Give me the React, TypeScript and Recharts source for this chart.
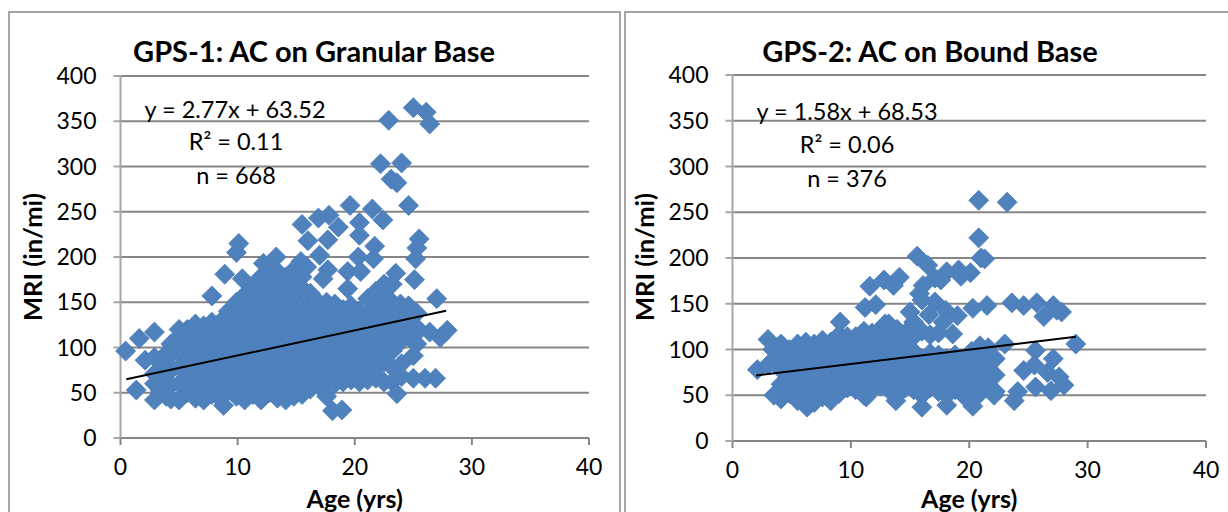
import { ScatterChart, Scatter, XAxis, YAxis, CartesianGrid } from 'recharts'

type Pt = { age: number; mri: number }

const xTicks = [0, 10, 20, 30, 40]
const yTicks = [0, 50, 100, 150, 200, 250, 300, 350, 400]

// points that stand clear of the blob, [age, mri]
const gps1Outliers = [
  [0.44, 96], [1.6, 110], [2.9, 117], [2.1, 86], [2.9, 89], [1.35, 53],
  [25, 365], [26.1, 360], [26.4, 347], [22.9, 351], [22.2, 303], [24, 304],
  [23.1, 286], [23.6, 282], [24.6, 257], [21.5, 253], [19.6, 257], [22.4, 241],
  [20.4, 238], [20.4, 224], [16.9, 243], [17.8, 246], [18.6, 233], [15.5, 236],
  [16, 218], [17.7, 219], [21.7, 212], [25.5, 220], [25.3, 210], [25.2, 198],
  [20.3, 200], [21.6, 198], [17, 202], [25.1, 175], [27, 154], [10.1, 215],
  [9.9, 205], [8.9, 181], [7.8, 157], [13.3, 200], [12.2, 193], [10.4, 176],
  [15.4, 195], [15.9, 189], [17.7, 186], [19.4, 184], [20.5, 184], [19.4, 165],
  [15.4, 167], [16.6, 154], [23.5, 182], [22.8, 167], [17.3, 176], [27.9, 119],
  [27.3, 111], [26.4, 117], [25.5, 119], [25, 91], [24, 82], [26.9, 66],
  [26, 66], [25, 66], [24, 68], [23.6, 49], [18.1, 30], [18.9, 31],
  [17.6, 46], [8.8, 36],
]

// the dense part, one age with its mri readings per row
const gps1Columns: [number, number[]][] = [
  [2.9, [42, 60, 71]],
  [3.4, [52, 70, 84]],
  [3.9, [46, 63, 80, 93]],
  [4.3, [43, 58, 75, 92, 104]],
  [5.0, [42, 60, 78, 96, 112, 120]],
  [5.7, [50, 68, 86, 104, 120]],
  [6.4, [44, 60, 77, 95, 112, 126]],
  [7.1, [42, 56, 72, 90, 108, 124]],
  [7.8, [48, 66, 84, 102, 118, 128]],
  [8.5, [44, 60, 76, 94, 112, 128]],
  [9.2, [52, 70, 88, 106, 124, 140]],
  [9.9, [46, 62, 80, 98, 116, 134, 150]],
  [10.6, [42, 56, 72, 90, 108, 126, 144, 158]],
  [11.3, [48, 66, 84, 102, 120, 138, 156, 168]],
  [12.0, [42, 58, 76, 94, 112, 130, 148, 166, 178]],
  [12.7, [50, 68, 86, 104, 122, 140, 158, 176, 186]],
  [13.4, [44, 60, 78, 96, 114, 132, 150, 168, 184]],
  [14.1, [42, 54, 72, 90, 108, 126, 144, 162, 178]],
  [14.8, [46, 64, 82, 100, 118, 136, 154, 172, 186]],
  [15.5, [48, 58, 76, 94, 112, 130, 146, 178]],
  [16.2, [54, 70, 88, 106, 124, 142, 160]],
  [16.9, [58, 78, 96, 114, 132, 148]],
  [17.6, [62, 70, 88, 106, 124, 142, 150]],
  [18.3, [60, 78, 96, 114, 132, 148]],
  [19.0, [62, 70, 88, 106, 124, 142]],
  [19.7, [64, 80, 98, 116, 134, 146]],
  [20.4, [62, 72, 90, 108, 126, 140]],
  [21.1, [64, 82, 100, 118, 136, 154]],
  [21.8, [66, 76, 94, 112, 130, 148, 162]],
  [22.5, [62, 84, 102, 120, 138, 156, 170]],
  [23.2, [62, 78, 96, 114, 132, 150, 170]],
  [23.9, [106, 122, 138, 148]],
  [24.6, [112, 128, 146]],
  [25.3, [104, 122, 138]],
]
const gps1Trend = [[0.5, 65], [27.8, 140.5]]

const gps2Outliers = [
  [20.8, 263], [23.2, 261], [20.8, 222], [21, 200], [21.3, 199], [15.6, 202],
  [16.5, 192], [11.6, 169], [12.8, 176], [14.1, 179], [13.6, 170], [9.1, 130],
  [11.2, 146], [12.1, 149], [17.1, 178], [18.1, 185], [19.1, 187], [20.1, 184],
  [19.3, 180], [17.6, 176], [16.1, 170], [15.8, 161], [16, 154], [17.1, 152],
  [18, 143], [19, 137], [20.3, 145], [21.5, 148], [23.6, 151], [24.6, 148],
  [25.7, 151], [27.1, 148], [27.8, 141], [26.3, 136], [27.4, 143], [29, 106],
  [27.1, 90], [25.6, 99], [24.6, 77], [25.5, 83], [26.6, 75], [27.6, 70],
  [28, 61], [25.6, 59], [26.9, 55], [24.1, 54], [23.8, 44], [23, 106],
  [2.1, 78], [3, 111], [3, 83], [3.5, 50], [6.3, 37], [16, 37],
  [18.1, 39], [20.3, 38], [13.8, 44], [11.3, 48], [22.1, 50], [18.6, 117],
  [15, 141], [12.9, 128], [16.6, 138], [17.8, 130],
]

const gps2Columns: [number, number[]][] = [
  [3.4, [88, 100]],
  [4.1, [46, 62, 78, 92, 106]],
  [4.8, [52, 68, 84, 100]],
  [5.5, [44, 60, 76, 92, 106]],
  [6.2, [48, 66, 84, 100, 108]],
  [6.9, [42, 58, 74, 90, 106]],
  [7.6, [48, 64, 80, 96, 110]],
  [8.3, [44, 60, 76, 92, 108]],
  [9.0, [52, 68, 84, 100, 116]],
  [9.7, [58, 74, 90, 106, 114]],
  [10.4, [56, 66, 82, 98, 114]],
  [11.1, [50, 62, 78, 94, 110, 120]],
  [11.8, [56, 70, 86, 102, 118]],
  [12.5, [60, 76, 92, 108, 122]],
  [13.2, [56, 68, 84, 100, 116, 128]],
  [13.9, [50, 62, 78, 94, 110, 122]],
  [14.6, [58, 72, 88, 104, 118]],
  [15.3, [56, 66, 82, 98, 114, 130]],
  [16.0, [50, 62, 76, 90, 120]],
  [16.7, [58, 70, 84, 96, 116]],
  [17.4, [54, 66, 80, 94, 118]],
  [18.1, [50, 62, 76, 90]],
  [18.8, [56, 70, 84, 94]],
  [19.5, [50, 62, 76, 90]],
  [20.2, [54, 68, 84, 98]],
  [20.9, [52, 62, 76, 92, 104]],
  [21.6, [58, 70, 86, 102]],
  [22.2, [54, 72, 90]],
]
const gps2Trend = [[2, 71.7], [29, 114]]

const toPts = (outliers: number[][], columns: [number, number[]][]): Pt[] => [
  ...columns.flatMap(([age, vals]) => vals.map(mri => ({ age, mri }))),
  ...outliers.map(([age, mri]) => ({ age, mri })),
]

const Diamond = (props: any) => {
  const { cx, cy } = props
  return (
    <path
      d={`M${cx} ${cy - 10}L${cx + 10} ${cy}L${cx} ${cy + 10}L${cx - 10} ${cy}Z`}
      fill="#4f81bd"
      stroke="#4a7ebb"
      strokeWidth={0.8}
    />
  )
}

const font = 'Lato, sans-serif'

type PanelProps = {
  left: number
  width: number
  marginLeft: number
  marginRight: number
  marginTop: number
  marginBottom: number
  title: string
  titleX: number
  notes: [string, string, string]
  noteX: number[]
  noteY: number[]
  points: Pt[]
  trend: number[][]
}

function Panel(p: PanelProps) {
  const trendPts = p.trend.map(([age, mri]) => ({ age, mri }))
  return (
    <div style={{ position: 'absolute', left: p.left, top: 0 }}>
      <ScatterChart
        width={p.width}
        height={512}
        margin={{ top: p.marginTop, right: p.marginRight, bottom: p.marginBottom, left: p.marginLeft }}
      >
        <CartesianGrid horizontal vertical={false} stroke="#868686" strokeWidth={2} />
        <XAxis
          type="number" dataKey="age" domain={[0, 40]} ticks={xTicks} height={40}
          stroke="#868686" strokeWidth={2} tickSize={7} tickMargin={14}
          tick={{ fill: '#000', fontSize: 23, fontFamily: font }}
        />
        <YAxis
          type="number" dataKey="mri" domain={[0, 400]} ticks={yTicks} width={60}
          stroke="#a6a6a6" strokeWidth={2} tickSize={7} tickMargin={17}
          tick={{ fill: '#000', fontSize: 23, fontFamily: font }}
        />
        <Scatter data={p.points} shape={Diamond} isAnimationActive={false} />
        <Scatter
          data={trendPts}
          shape={() => null}
          line={{ stroke: '#000', strokeWidth: 2 }}
          isAnimationActive={false}
        />
        <g fontFamily={font} fill="#000">
          <text x={p.titleX} y={62} fontSize={29} fontWeight={700} textAnchor="middle">{p.title}</text>
          <text x={p.noteX[0]} y={p.noteY[0]} fontSize={23.5} textAnchor="middle">{p.notes[0]}</text>
          <text x={p.noteX[1]} y={p.noteY[1]} fontSize={23.5} textAnchor="middle">{p.notes[1]}</text>
          <text x={p.noteX[2]} y={p.noteY[2]} fontSize={23.5} textAnchor="middle">{p.notes[2]}</text>
          <text x={p.marginLeft + 60 + (p.width - p.marginLeft - 60 - p.marginRight) / 2} y={508} fontSize={25} fontWeight={700} textAnchor="middle">Age (yrs)</text>
          <text
            transform={`translate(${p.marginLeft - 19} 257) rotate(-90)`}
            fontSize={25.5} fontWeight={700} textAnchor="middle"
          >MRI (in/mi)</text>
        </g>
      </ScatterChart>
    </div>
  )
}

export default function App() {
  return (
    <div style={{ position: 'absolute', left: 0, top: 0, width: 1228, height: 512, overflow: 'hidden', background: '#fff' }}>
      <div style={{ position: 'absolute', left: 8, top: 11, width: 613, height: 520, border: '2px solid #a6a6a6', boxSizing: 'border-box' }} />
      <div style={{ position: 'absolute', left: 624, top: 11, width: 640, height: 520, border: '2px solid #a6a6a6', boxSizing: 'border-box' }} />
      <Panel
        left={0} width={620} marginLeft={60.5} marginRight={31} marginTop={76} marginBottom={34}
        title="GPS-1: AC on Granular Base" titleX={314}
        notes={['y = 2.77x + 63.52', 'R² = 0.11', 'n = 668']}
        noteX={[235, 236, 236]} noteY={[118, 150, 184]}
        points={toPts(gps1Outliers, gps1Columns)} trend={gps1Trend}
      />
      <Panel
        left={620} width={608} marginLeft={52.5} marginRight={22} marginTop={75} marginBottom={31}
        title="GPS-2: AC on Bound Base" titleX={310}
        notes={['y = 1.58x + 68.53', 'R² = 0.06', 'n = 376']}
        noteX={[227, 227, 227]} noteY={[120, 153, 187]}
        points={toPts(gps2Outliers, gps2Columns)} trend={gps2Trend}
      />
    </div>
  )
}
